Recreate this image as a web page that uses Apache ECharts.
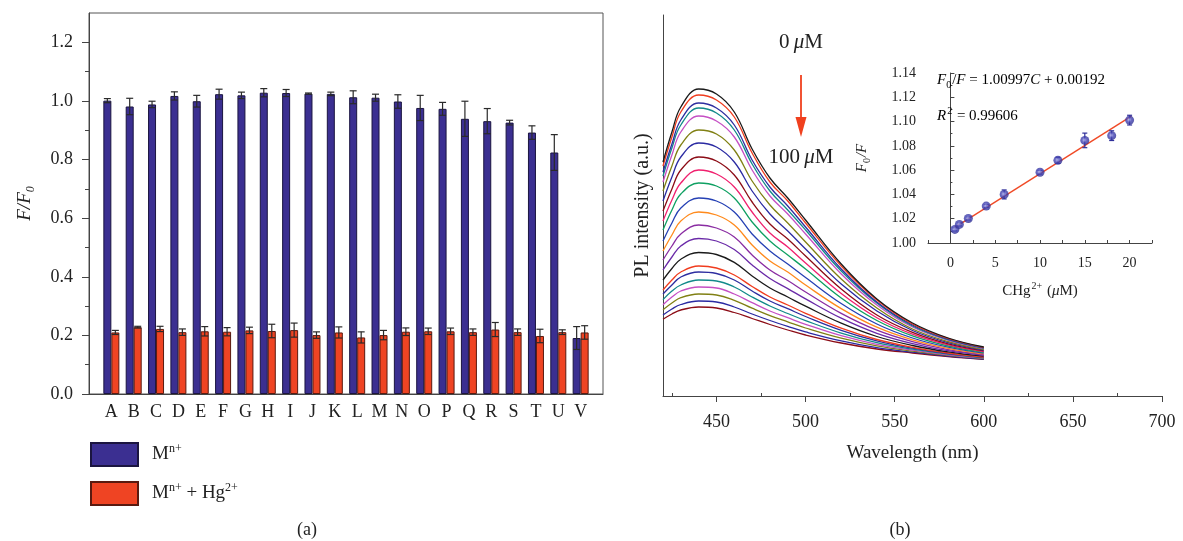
<!DOCTYPE html>
<html lang="en">
<head>
<meta charset="UTF-8">
<title>Selectivity and PL quenching by Hg2+</title>
<style type="text/css">
    html, body { margin: 0; padding: 0; background: #fff; }
    #main { width: 1183px; height: 541px; }
</style>
<script src="https://cdn.jsdelivr.net/npm/echarts@6/dist/echarts.min.js"></script>
</head>
<body>
<div id="main"></div>
<script type="text/javascript">
// (a) selectivity: F/F0 for each metal ion, without and with Hg2+
var ions = ['A','B','C','D','E','F','G','H','I','J','K','L','M','N','O','P','Q','R','S','T','U','V'];
var ionValue = [1.001, 0.981, 0.988, 1.017, 0.999, 1.023, 1.019, 1.028, 1.027, 1.025, 1.024, 1.0125, 1.011, 0.998, 0.976, 0.973, 0.939, 0.931, 0.926, 0.892, 0.824, 0.191];
var ionErr = [0.007, 0.028, 0.011, 0.014, 0.02, 0.017, 0.011, 0.014, 0.012, 0.002, 0.006, 0.022, 0.012, 0.023, 0.043, 0.022, 0.06, 0.043, 0.008, 0.023, 0.061, 0.039];
var hgValue = [0.210, 0.228, 0.222, 0.211, 0.214, 0.2125, 0.217, 0.215, 0.218, 0.201, 0.210, 0.193, 0.201, 0.2125, 0.214, 0.214, 0.211, 0.220, 0.211, 0.198, 0.211, 0.210];
var hgErr = [0.007, 0.003, 0.009, 0.011, 0.016, 0.014, 0.011, 0.023, 0.024, 0.011, 0.019, 0.019, 0.016, 0.013, 0.011, 0.011, 0.011, 0.024, 0.011, 0.023, 0.008, 0.023];
var yTicksA = [0, 0.2, 0.4, 0.6, 0.8, 1.0, 1.2];
var yMinorA = [0.1, 0.3, 0.5, 0.7, 0.9, 1.1];

// (b) PL spectra, 0 -> 100 uM Hg2+ (arbitrary units)
var wavelengths = [420, 425, 430, 440, 450, 460, 470, 480, 490, 500, 520, 540, 560, 580, 600];
var spectra = [
    [234, 264, 289, 307, 302, 284, 247, 218, 198, 176, 132, 97, 73, 58, 49],
    [230, 259, 284, 301, 296, 279, 243, 214, 195, 173, 130, 96, 72, 57.5, 48.7],
    [224, 252, 276, 293, 288, 271, 236, 209, 190, 169, 127, 94, 71, 56.8, 48.2],
    [220, 248, 271, 288, 283, 266, 232, 205, 186, 166, 125, 93, 70, 56.4, 47.9],
    [214, 241, 264, 280, 275, 259, 226, 200, 182, 162, 122, 91, 69, 55.7, 47.5],
    [205, 230, 251, 266, 262, 246, 215, 191, 173, 154, 117, 88, 67, 54.5, 46.7],
    [195, 219, 239, 253, 249, 234, 205, 182, 165, 147, 112, 85, 65.5, 53.4, 45.9],
    [185, 207, 226, 239, 235, 221, 194, 172, 157, 140, 107, 81, 63.6, 52.2, 45.2],
    [175, 196, 213, 226, 222, 209, 184, 163, 149, 133, 102.5, 78.3, 61.8, 51.1, 44.4],
    [166, 186, 202, 213, 210, 198, 174, 155, 141, 127, 98, 75.5, 60.1, 50, 43.7],
    [155, 173, 188, 198, 195, 184, 162, 145, 132, 118.5, 92.5, 72, 58, 48.8, 42.9],
    [145, 161, 175, 184, 181, 171, 151, 135, 124, 111, 87.4, 68.8, 56.1, 47.6, 42.1],
    [136, 150, 162, 171, 168, 159, 141, 126, 115.5, 104, 82.6, 65.8, 54.3, 46.4, 41.3],
    [126, 139, 150, 157.5, 155, 146.5, 131, 117.5, 107.4, 97.1, 77.8, 62.7, 52.4, 45.3, 40.6],
    [116, 127.5, 136.8, 143.5, 141.5, 133.6, 120, 108, 99, 89.8, 72.8, 59.5, 50.5, 44.1, 39.8],
    [106, 116, 124, 130, 128, 121, 109.5, 99, 91, 82.7, 67.9, 56.5, 48.7, 43, 39],
    [102, 111, 119, 124, 122.5, 116, 105, 95, 87.3, 79.5, 65.7, 55.1, 47.8, 42.5, 38.7],
    [96.4, 105, 111, 116, 115, 109, 99, 90, 82.5, 75.4, 62.9, 53.3, 46.8, 41.8, 38.2],
    [91.3, 99, 105, 109, 108, 102, 93.3, 85, 78.3, 71.7, 60.3, 51.7, 45.8, 41.2, 37.8],
    [86.3, 93, 98.4, 102, 101, 95.7, 87.8, 80.4, 74.1, 68, 57.8, 50.1, 44.8, 40.6, 37.5],
    [80.9, 87, 91.5, 95, 94, 89, 82, 75.5, 69.6, 64.1, 55.1, 48.4, 43.8, 40, 37],
    [76.7, 82, 86, 89, 88, 83.5, 77.5, 71.5, 66, 61, 53, 47, 43, 39.5, 36.7]
];
var lineColors = ['#1a1a1a', '#f03c1e', '#2e2ea0', '#12898a', '#c54fc4', '#808014', '#2a2aa2',
                  '#8c0c16', '#f0206e', '#0fa062', '#2540b4', '#ff8a1c', '#8a2ca2', '#6a2aa8'];
var xTicksB = [450, 500, 550, 600, 650, 700];
var xMinorB = [425, 475, 525, 575, 625, 675];

// inset: linear fit of F0/F vs Hg2+ concentration
var conc = [0.5, 1, 2, 4, 6, 10, 12, 15, 18, 20];
var ratio = [1.0112, 1.0153, 1.0202, 1.0304, 1.0400, 1.0583, 1.0681, 1.0845, 1.0884, 1.1012];
var ratioErr = [0.0012, 0.0012, 0.0012, 0.0012, 0.0037, 0.0015, 0.0025, 0.006, 0.004, 0.004];
var fitLine = [[0.5, 1.0128], [20.2, 1.1045]];
var xTicksInset = [0, 5, 10, 15, 20];

var serif = 'Liberation Serif';
var ink = '#222';
var axisCol = '#444';

function errorBars(shift, cap, color) {
    return function (params, api) {
        var x = api.value(0), y = api.value(1), e = api.value(2);
        var hi = api.coord([x, y + e]);
        var lo = api.coord([x, y - e]);
        var cx = hi[0] + shift;
        var st = { stroke: color, lineWidth: 1.2 };
        return {
            type: 'group',
            children: [
                { type: 'line', shape: { x1: cx, y1: hi[1], x2: cx, y2: lo[1] }, style: st },
                { type: 'line', shape: { x1: cx - cap, y1: hi[1], x2: cx + cap, y2: hi[1] }, style: st },
                { type: 'line', shape: { x1: cx - cap, y1: lo[1], x2: cx + cap, y2: lo[1] }, style: st }
            ]
        };
    };
}

var richBase = {
    t: { fontFamily: serif, fontSize: 19, color: ink, lineHeight: 24 },
    i: { fontFamily: serif, fontSize: 19, fontStyle: 'italic', color: ink, lineHeight: 24 },
    sup: { fontFamily: serif, fontSize: 12, color: ink, lineHeight: 12, verticalAlign: 'top' },
    sub: { fontFamily: serif, fontSize: 12, fontStyle: 'italic', color: ink, lineHeight: 12, verticalAlign: 'bottom' }
};
var richSmall = {
    t: { fontFamily: serif, fontSize: 15, color: ink, lineHeight: 20 },
    i: { fontFamily: serif, fontSize: 15, fontStyle: 'italic', color: ink, lineHeight: 20 },
    sup: { fontFamily: serif, fontSize: 10, color: ink, lineHeight: 10, verticalAlign: 'top', padding: [0, 1, 0, 1] },
    sub: { fontFamily: serif, fontSize: 10, color: ink, lineHeight: 10, verticalAlign: 'bottom', padding: [0, 1, 0, 0] }
};

var myChart = echarts.init(document.getElementById('main'));

var series = [
    {
        name: 'Mn+', type: 'bar', xAxisIndex: 0, yAxisIndex: 0,
        barWidth: 8, barGap: '0%',
        itemStyle: { color: '#3b2f91', borderColor: '#1b1540', borderWidth: 1 },
        data: ionValue.map(function (v, i) { return [i + 1, v]; })
    },
    {
        name: 'Mn+ + Hg2+', type: 'bar', xAxisIndex: 0, yAxisIndex: 0,
        barWidth: 8, barGap: '0%',
        itemStyle: { color: '#ef4423', borderColor: '#5a1a10', borderWidth: 1 },
        data: hgValue.map(function (v, i) { return [i + 1, v]; })
    },
    {
        type: 'custom', xAxisIndex: 0, yAxisIndex: 0, z: 5,
        renderItem: errorBars(-4, 3.5, '#2a2a2a'),
        encode: { x: 0, y: 1 },
        data: ionValue.map(function (v, i) { return [i + 1, v, ionErr[i]]; })
    },
    {
        type: 'custom', xAxisIndex: 0, yAxisIndex: 0, z: 5,
        renderItem: errorBars(4, 3.5, '#2a2a2a'),
        encode: { x: 0, y: 1 },
        data: hgValue.map(function (v, i) { return [i + 1, v, hgErr[i]]; })
    }
];

spectra.forEach(function (row, k) {
    series.push({
        type: 'line', xAxisIndex: 1, yAxisIndex: 2,
        smooth: 0.4, showSymbol: false, silent: true,
        z: 3 + (spectra.length - k) / 100,
        lineStyle: { color: lineColors[k % lineColors.length], width: 1.3 },
        data: wavelengths.map(function (w, j) { return [w, row[j]]; })
    });
});

series.push({
    type: 'line', xAxisIndex: 3, yAxisIndex: 3, showSymbol: false, silent: true, z: 4,
    lineStyle: { color: '#f04a26', width: 1.4 },
    data: fitLine
});
series.push({
    type: 'custom', xAxisIndex: 3, yAxisIndex: 3, z: 5,
    renderItem: errorBars(0, 2.5, '#2f2f9a'),
    encode: { x: 0, y: 1 },
    data: conc.map(function (c, i) { return [c, ratio[i], ratioErr[i]]; })
});
series.push({
    type: 'scatter', xAxisIndex: 3, yAxisIndex: 3, z: 6, symbolSize: 9,
    itemStyle: {
        color: {
            type: 'radial', x: 0.45, y: 0.45, r: 0.6,
            colorStops: [{ offset: 0, color: '#b9b9ee' }, { offset: 0.45, color: '#4545b5' }, { offset: 1, color: '#2b2b8e' }]
        }
    },
    data: conc.map(function (c, i) { return [c, ratio[i]]; })
});

var option = {
    animation: false,
    textStyle: { fontFamily: serif },
    grid: [
        { left: 89, right: 580, top: 13, bottom: 147, show: true, borderColor: '#555', borderWidth: 1 },
        { left: 663, right: 21, top: 15, bottom: 145 },
        { left: 928, right: 31, top: 73, bottom: 298 }
    ],
    legend: {
        left: 85, top: 437, orient: 'vertical',
        itemWidth: 47, itemHeight: 23, itemGap: 14, icon: 'rect',
        selectedMode: false,
        data: ['Mn+', 'Mn+ + Hg2+'],
        formatter: function (name) {
            return name === 'Mn+' ? '{t|M}{sup|n+}' : '{t|M}{sup|n+}{t| + Hg}{sup|2+}';
        },
        textStyle: { padding: [0, 0, 0, 9], rich: richBase }
    },
    xAxis: [
        {
            gridIndex: 0, type: 'value', min: 0, max: 23,
            axisLine: { show: true, onZero: false, lineStyle: { color: axisCol } },
            axisTick: { show: false },
            axisLabel: {
                customValues: ions.map(function (c, i) { return i + 1; }),
                formatter: function (v) { return ions[v - 1]; },
                fontSize: 18, color: ink, margin: 9
            },
            splitLine: { show: false }
        },
        {
            gridIndex: 1, type: 'value', min: 420, max: 700,
            axisLine: { show: true, onZero: false, lineStyle: { color: axisCol } },
            axisTick: { show: true, customValues: xTicksB, length: 6, lineStyle: { color: axisCol } },
            axisLabel: { customValues: xTicksB, fontSize: 18, color: ink, margin: 17 },
            splitLine: { show: false },
            name: 'Wavelength (nm)', nameLocation: 'middle', nameGap: 48,
            nameTextStyle: { fontSize: 19, color: ink }
        },
        {
            gridIndex: 1, type: 'value', min: 420, max: 700,
            axisLine: { show: false },
            axisTick: { show: true, customValues: xMinorB, length: 3, lineStyle: { color: axisCol } },
            axisLabel: { show: false },
            splitLine: { show: false }
        },
        {
            gridIndex: 2, type: 'value', min: -2.5, max: 22.5, interval: 2.5,
            axisLine: { show: true, onZero: false, lineStyle: { color: axisCol } },
            axisTick: { show: true, inside: true, length: 3, lineStyle: { color: axisCol } },
            axisLabel: { customValues: xTicksInset, fontSize: 14, color: ink, margin: 13 },
            splitLine: { show: false },
            name: '{t|CHg}{sup|2+}{t| (}{i|μ}{t|M)}', nameLocation: 'middle', nameGap: 38,
            nameTextStyle: { rich: richSmall }
        }
    ],
    yAxis: [
        {
            gridIndex: 0, type: 'value', min: 0, max: 1.3, position: 'left',
            axisLine: { show: true, lineStyle: { color: axisCol } },
            axisTick: { show: true, customValues: yTicksA, length: 7, lineStyle: { color: axisCol } },
            axisLabel: {
                customValues: yTicksA,
                formatter: function (v) { return v.toFixed(1); },
                fontSize: 18, color: ink, margin: 16
            },
            splitLine: { show: false },
            name: '{i|F/F}{sub|0}', nameLocation: 'middle', nameGap: 52, nameRotate: 90,
            nameTextStyle: { rich: richBase }
        },
        {
            gridIndex: 0, type: 'value', min: 0, max: 1.3, position: 'left',
            axisLine: { show: false },
            axisTick: { show: true, customValues: yMinorA, length: 4, lineStyle: { color: axisCol } },
            axisLabel: { show: false },
            splitLine: { show: false }
        },
        {
            gridIndex: 1, type: 'value', min: 0, max: 381,
            axisLine: { show: true, lineStyle: { color: axisCol } },
            axisTick: { show: false },
            axisLabel: { show: false },
            splitLine: { show: false },
            name: 'PL intensity (a.u.)', nameLocation: 'middle', nameGap: 10, nameRotate: 90,
            nameTextStyle: { fontSize: 20, color: ink }
        },
        {
            gridIndex: 2, type: 'value', min: 1.0, max: 1.14, interval: 0.02,
            axisLine: { show: true, lineStyle: { color: axisCol } },
            axisTick: { show: true, inside: true, length: 4, lineStyle: { color: axisCol } },
            minorTick: { show: true, splitNumber: 2, length: 2, lineStyle: { color: axisCol } },
            axisLabel: { formatter: function (v) { return v.toFixed(2); }, fontSize: 14, color: ink, margin: 12 },
            splitLine: { show: false },
            name: '{i|F}{sub|0}{i|/F}', nameLocation: 'middle', nameGap: 56, nameRotate: 90,
            nameTextStyle: { rich: richSmall }
        }
    ],
    graphic: [
        {
            type: 'text', x: 801, y: 42,
            style: { text: '{t|0\u2009}{i|μ}{t|M}', rich: { t: { fontFamily: serif, fontSize: 21, fill: ink }, i: { fontFamily: serif, fontSize: 21, fontStyle: 'italic', fill: ink } }, align: 'center', verticalAlign: 'middle' }
        },
        {
            type: 'text', x: 801, y: 157,
            style: { text: '{t|100\u2009}{i|μ}{t|M}', rich: { t: { fontFamily: serif, fontSize: 21, fill: ink }, i: { fontFamily: serif, fontSize: 21, fontStyle: 'italic', fill: ink } }, align: 'center', verticalAlign: 'middle' }
        },
        { type: 'line', shape: { x1: 801, y1: 75, x2: 801, y2: 119 }, style: { stroke: '#f0401e', lineWidth: 1.8 } },
        { type: 'polygon', shape: { points: [[795.5, 117], [806.5, 117], [801, 137]] }, style: { fill: '#f0401e' } },
        {
            type: 'text', x: 937, y: 80, z: 10,
            style: { text: '{i|F}{sub|0}{t|/}{i|F}{t| = 1.00997}{i|C}{t| + 0.00192}', rich: richSmall, verticalAlign: 'middle' }
        },
        {
            type: 'text', x: 937, y: 116, z: 10,
            style: { text: '{i|R}{sup|2}{t| = 0.99606}', rich: richSmall, verticalAlign: 'middle' }
        },
        { type: 'text', x: 307, y: 530, style: { text: '(a)', font: '18px "Liberation Serif"', fill: ink, align: 'center', verticalAlign: 'middle' } },
        { type: 'text', x: 900, y: 530, style: { text: '(b)', font: '18px "Liberation Serif"', fill: ink, align: 'center', verticalAlign: 'middle' } }
    ],
    series: series
};
myChart.setOption(option);
</script>
</body>
</html>
